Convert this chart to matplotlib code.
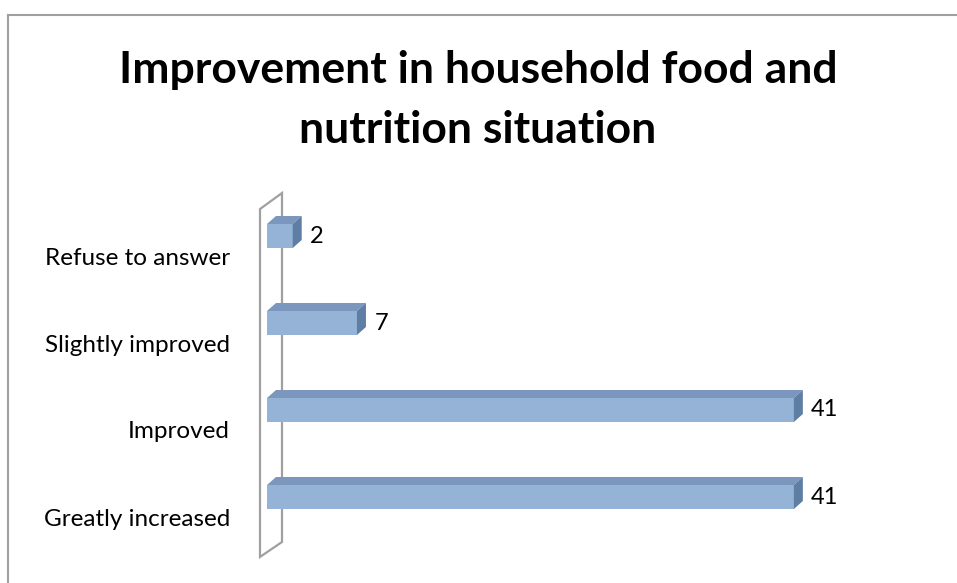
import matplotlib.pyplot as plt
from matplotlib.patches import Polygon

# responses (bottom to top)
categories = ["Greatly increased", "Improved", "Slightly improved", "Refuse to answer"]
counts = [41, 41, 7, 2]

W, H = 957, 583
fig = plt.figure(figsize=(W / 100, H / 100), dpi=100)

# pixel helpers
px_per_unit = 12.85
py_per_cat = 87.0
ax_l, ax_r, ax_t, ax_b = 267, 917, 180, 570
y0_px = 497  # centre of first bar

ax = fig.add_axes([ax_l / W, (H - ax_b) / H, (ax_r - ax_l) / W, (ax_b - ax_t) / H])
ax.set_xlim(0, (ax_r - ax_l) / px_per_unit)
ax.set_ylim(-(ax_b - y0_px) / py_per_cat, (y0_px - ax_t) / py_per_cat)
ax.axis("off")

front = "#95b3d7"
top_c = "#7b97bd"
side_c = "#5f7ea4"
dx = 9 / px_per_unit
dy = 8 / py_per_cat
bh = 24 / py_per_cat

# back wall of the 3d frame
wx0, wx1 = -7 / px_per_unit, 15 / px_per_unit
wall = Polygon([(wx0, 3.31), (wx1, 3.31 + 0.184), (wx1, -0.517), (wx0, -0.517 - 0.172)],
               closed=True, fill=False, edgecolor="#a0a0a0", lw=1.6, clip_on=False, zorder=1)
ax.add_patch(wall)

ypos = list(range(len(categories)))
ax.barh(ypos, counts, height=bh, color=front, zorder=3, linewidth=0)
for y, v in zip(ypos, counts):
    t = y + bh / 2
    b = y - bh / 2
    ax.add_patch(Polygon([(0, t), (dx, t + dy), (v + dx, t + dy), (v, t)],
                         closed=True, color=top_c, lw=0, zorder=3))
    ax.add_patch(Polygon([(v, t), (v + dx, t + dy), (v + dx, b + dy), (v, b)],
                         closed=True, color=side_c, lw=0, zorder=3))
    ax.annotate(str(v), (v + dx, y), xytext=(6, 0), textcoords="offset points",
                ha="left", va="center", fontsize=17, family="Lato")
    ax.text(-37 / px_per_unit, y - 22 / py_per_cat, categories[y], ha="right", va="center",
            fontsize=17.5, family="Lato")

# title
fig.text(478 / W, 1 - 70 / H, "Improvement in household food and", ha="center", va="center",
         fontsize=32, fontweight="bold", family="Lato")
fig.text(478 / W, 1 - 130 / H, "nutrition situation", ha="center", va="center",
         fontsize=32, fontweight="bold", family="Lato")

# chart area border (top and left visible)
fig.add_artist(plt.Line2D([8 / W, 8 / W], [0, 1 - 15 / H], color="#a0a0a0", lw=1.5))
fig.add_artist(plt.Line2D([8 / W, 1], [1 - 15 / H, 1 - 15 / H], color="#a0a0a0", lw=1.5))

fig.savefig("out.png", dpi=100)
